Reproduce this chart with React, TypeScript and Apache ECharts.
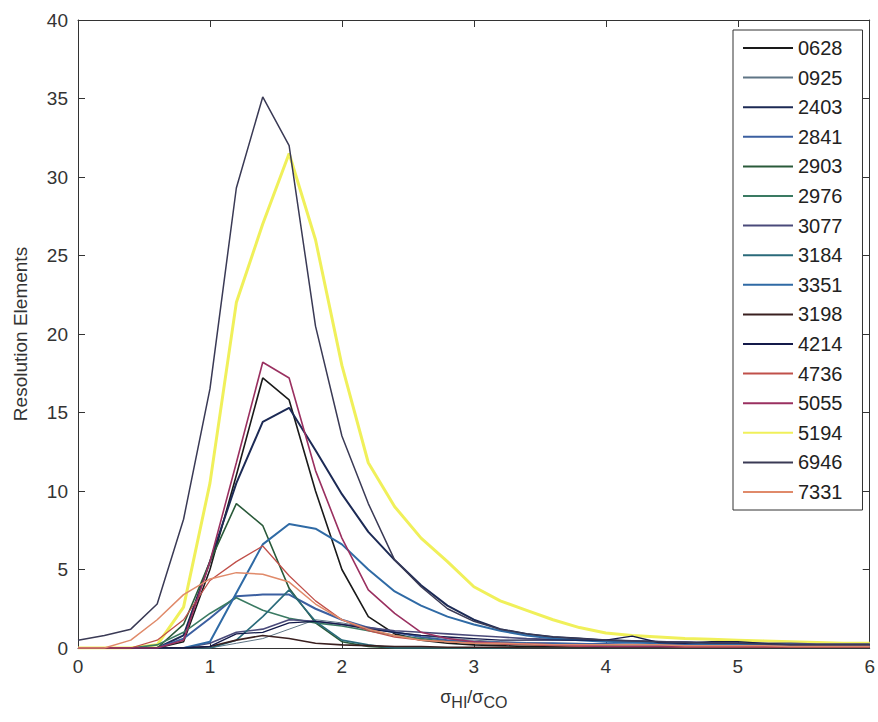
import React, { useEffect, useRef } from "react";
import * as echarts from "echarts";

const xValues = [0, 0.2, 0.4, 0.6, 0.8, 1.0, 1.2, 1.4, 1.6, 1.8, 2.0, 2.2, 2.4, 2.6, 2.8, 3.0, 3.2, 3.4, 3.6, 3.8, 4.0, 4.2, 4.4, 4.6, 4.8, 5.0, 5.2, 5.4, 5.6, 5.8, 6.0];

const seriesNames = ["0628", "0925", "2403", "2841", "2903", "2976", "3077", "3184", "3351", "3198", "4214", "4736", "5055", "5194", "6946", "7331"];

const s0628 = [0, 0, 0, 0, 0.4, 5.0, 11.0, 17.2, 15.8, 10.0, 5.0, 2.0, 0.9, 0.5, 0.3, 0.2, 0.15, 0.1, 0.1, 0.1, 0.1, 0.1, 0.1, 0.1, 0.1, 0.1, 0.1, 0.1, 0.1, 0.1, 0.1];
const s0925 = [0, 0, 0, 0, 0, 0, 0.3, 0.6, 1.2, 1.8, 1.6, 1.3, 1.0, 0.8, 0.6, 0.5, 0.4, 0.35, 0.3, 0.3, 0.25, 0.25, 0.2, 0.2, 0.2, 0.2, 0.2, 0.15, 0.15, 0.15, 0.15];
const s2403 = [0, 0, 0, 0, 0.8, 5.5, 10.5, 14.4, 15.3, 12.6, 9.8, 7.4, 5.6, 4.0, 2.7, 1.8, 1.2, 0.9, 0.7, 0.6, 0.5, 0.45, 0.4, 0.35, 0.3, 0.3, 0.25, 0.2, 0.2, 0.2, 0.2];
const s2841 = [0, 0, 0, 0, 0.6, 1.9, 3.3, 3.4, 3.4, 2.5, 1.8, 1.3, 1.0, 0.7, 0.5, 0.4, 0.35, 0.3, 0.3, 0.25, 0.25, 0.2, 0.2, 0.2, 0.2, 0.15, 0.15, 0.15, 0.15, 0.1, 0.1];
const s2903 = [0, 0, 0, 0, 1.5, 5.5, 9.2, 7.8, 3.8, 1.6, 0.4, 0.1, 0, 0, 0, 0, 0, 0, 0, 0, 0, 0, 0, 0, 0, 0, 0, 0, 0, 0, 0];
const s2976 = [0, 0, 0, 0.2, 1.0, 2.2, 3.2, 2.4, 1.9, 1.6, 1.4, 1.1, 0.8, 0.6, 0.4, 0.3, 0.25, 0.2, 0.2, 0.15, 0.15, 0.1, 0.1, 0.1, 0.1, 0.1, 0.1, 0.1, 0.1, 0.1, 0.1];
const s3077 = [0, 0, 0, 0, 0, 0.3, 1.0, 1.2, 1.8, 1.7, 1.5, 1.3, 1.1, 1.0, 0.9, 0.8, 0.7, 0.6, 0.55, 0.5, 0.5, 0.45, 0.4, 0.4, 0.35, 0.3, 0.3, 0.3, 0.25, 0.25, 0.25];
const s3184 = [0, 0, 0, 0, 0, 0, 0.5, 2.0, 3.7, 1.7, 0.5, 0.2, 0, 0, 0, 0, 0, 0, 0, 0, 0, 0, 0, 0, 0, 0, 0, 0, 0, 0, 0];
const s3351 = [0, 0, 0, 0, 0, 0.4, 3.5, 6.6, 7.9, 7.6, 6.6, 5.0, 3.6, 2.7, 2.0, 1.5, 1.1, 0.8, 0.6, 0.5, 0.4, 0.35, 0.3, 0.3, 0.25, 0.2, 0.2, 0.2, 0.15, 0.15, 0.15];
const s3198 = [0, 0, 0, 0, 0, 0.1, 0.5, 0.8, 0.6, 0.3, 0.2, 0.15, 0.1, 0.1, 0.05, 0.05, 0.05, 0, 0, 0, 0, 0, 0, 0, 0, 0, 0, 0, 0, 0, 0];
const s4214 = [0, 0, 0, 0, 0, 0.1, 0.9, 1.0, 1.6, 1.7, 1.5, 1.2, 1.0, 0.8, 0.7, 0.6, 0.5, 0.5, 0.5, 0.5, 0.5, 0.75, 0.35, 0.3, 0.4, 0.4, 0.3, 0.2, 0.2, 0.2, 0.2];
const s4736 = [0, 0, 0, 0.5, 1.8, 4.3, 5.5, 6.5, 4.6, 3.0, 1.8, 1.1, 0.7, 0.5, 0.4, 0.3, 0.25, 0.2, 0.15, 0.1, 0.1, 0.1, 0.1, 0.05, 0.05, 0.05, 0.05, 0.05, 0.05, 0.05, 0.05];
const s5055 = [0, 0, 0, 0, 0.5, 5.5, 11.8, 18.2, 17.2, 11.3, 7.0, 3.7, 2.2, 1.0, 0.6, 0.4, 0.3, 0.25, 0.2, 0.15, 0.1, 0.1, 0.1, 0.1, 0.1, 0.1, 0.1, 0.1, 0.1, 0.1, 0.1];
const s5194 = [0, 0, 0, 0.2, 2.6, 10.5, 22.0, 27.0, 31.5, 26.0, 18.0, 11.8, 9.0, 7.0, 5.5, 3.9, 3.0, 2.4, 1.8, 1.3, 0.95, 0.8, 0.7, 0.6, 0.55, 0.5, 0.45, 0.4, 0.35, 0.3, 0.3];
const s6946 = [0.5, 0.8, 1.2, 2.8, 8.2, 16.5, 29.3, 35.1, 32.0, 20.5, 13.5, 9.2, 5.6, 3.9, 2.5, 1.7, 1.2, 0.9, 0.7, 0.6, 0.5, 0.45, 0.4, 0.35, 0.3, 0.3, 0.25, 0.2, 0.2, 0.2, 0.2];
const s7331 = [0, 0, 0.5, 1.8, 3.4, 4.4, 4.8, 4.7, 4.2, 2.8, 1.8, 1.2, 0.8, 0.5, 0.4, 0.3, 0.3, 0.25, 0.2, 0.2, 0.2, 0.2, 0.2, 0.15, 0.15, 0.15, 0.15, 0.1, 0.1, 0.1, 0.1];

const seriesValues = [s0628, s0925, s2403, s2841, s2903, s2976, s3077, s3184, s3351, s3198, s4214, s4736, s5055, s5194, s6946, s7331];

const seriesColors = ["#1a1a1a", "#5f7585", "#1c2a55", "#3b5fa0", "#2a5a3a", "#3a7a62", "#4a4a7a", "#2a6a7a", "#2f6aa5", "#3a2020", "#141a4a", "#c0504a", "#9a3060", "#f0f05a", "#3a3a55", "#e08a6a"];
const seriesWidths = [1.6, 1, 2, 2, 1.6, 1.6, 1.6, 1.6, 2, 1.6, 1.3, 1.3, 1.6, 3, 1.5, 1.5];

const xTicks = [0, 1, 2, 3, 4, 5, 6];
const yTicks = [0, 5, 10, 15, 20, 25, 30, 35, 40];

const FONT = "Liberation Sans, Arial, sans-serif";

export default function App() {
  const ref = useRef<HTMLDivElement>(null);
  useEffect(() => {
    if (!ref.current) return;
    const chart = echarts.init(ref.current, null, { renderer: "svg" });
    const series = seriesNames.map((name, i) => ({
      name,
      type: "line",
      xAxisIndex: 0,
      yAxisIndex: 0,
      symbol: "none",
      smooth: false,
      data: xValues.map((x, j) => [x, seriesValues[i][j]]),
      lineStyle: { color: seriesColors[i], width: seriesWidths[i] },
      itemStyle: { color: seriesColors[i] },
      z: i === 13 ? 1 : 2,
    }));
    const axisCommon = {
      axisLine: { show: true, onZero: false, lineStyle: { color: "#333", width: 1 } },
      axisTick: { show: true, inside: true, length: 7, lineStyle: { color: "#333" } },
      splitLine: { show: false },
    };
    chart.setOption({
      animation: false,
      backgroundColor: "#ffffff",
      grid: { left: 78, top: 20, right: 6, bottom: 74, containLabel: false },
      legend: {
        orient: "vertical",
        left: 733,
        top: 30,
        width: 129,
        padding: [8, 20, 8, 10],
        icon: "rect",
        itemWidth: 50,
        itemHeight: 2,
        itemGap: 9.6,
        borderColor: "#333",
        borderWidth: 1,
        backgroundColor: "#fff",
        textStyle: { fontFamily: FONT, fontSize: 20, color: "#222", lineHeight: 20 },
        data: seriesNames,
      },
      xAxis: [
        {
          type: "value",
          min: 0,
          max: 6,
          interval: 1,
          position: "bottom",
          ...axisCommon,
          axisLabel: {
            fontFamily: FONT,
            fontSize: 19,
            color: "#333",
            margin: 9,
            formatter: (v: number) => (xTicks.includes(v) ? String(v) : ""),
          },
          name: "σ{sub|HI}/σ{sub|CO}",
          nameLocation: "middle",
          nameGap: 36,
          nameTextStyle: {
            fontFamily: FONT,
            fontSize: 18,
            color: "#333",
            rich: { sub: { fontFamily: FONT, fontSize: 16, color: "#333", verticalAlign: "bottom", padding: [10, 0, 0, 0] } },
          },
        },
        {
          type: "value",
          min: 0,
          max: 6,
          interval: 1,
          position: "top",
          ...axisCommon,
          axisLabel: { show: false },
        },
      ],
      yAxis: [
        {
          type: "value",
          min: 0,
          max: 40,
          interval: 5,
          position: "left",
          ...axisCommon,
          axisLabel: {
            fontFamily: FONT,
            fontSize: 19,
            color: "#333",
            margin: 10,
            formatter: (v: number) => (yTicks.includes(v) ? String(v) : ""),
          },
          name: "Resolution Elements",
          nameLocation: "middle",
          nameGap: 48,
          nameTextStyle: { fontFamily: FONT, fontSize: 19, color: "#333" },
        },
        {
          type: "value",
          min: 0,
          max: 40,
          interval: 5,
          position: "right",
          ...axisCommon,
          axisLabel: { show: false },
        },
      ],
      series,
    });
    return () => chart.dispose();
  }, []);
  return (
    <div
      ref={ref}
      style={{ position: "fixed", left: 0, top: 0, width: 878, height: 722, background: "#fff" }}
    />
  );
}
